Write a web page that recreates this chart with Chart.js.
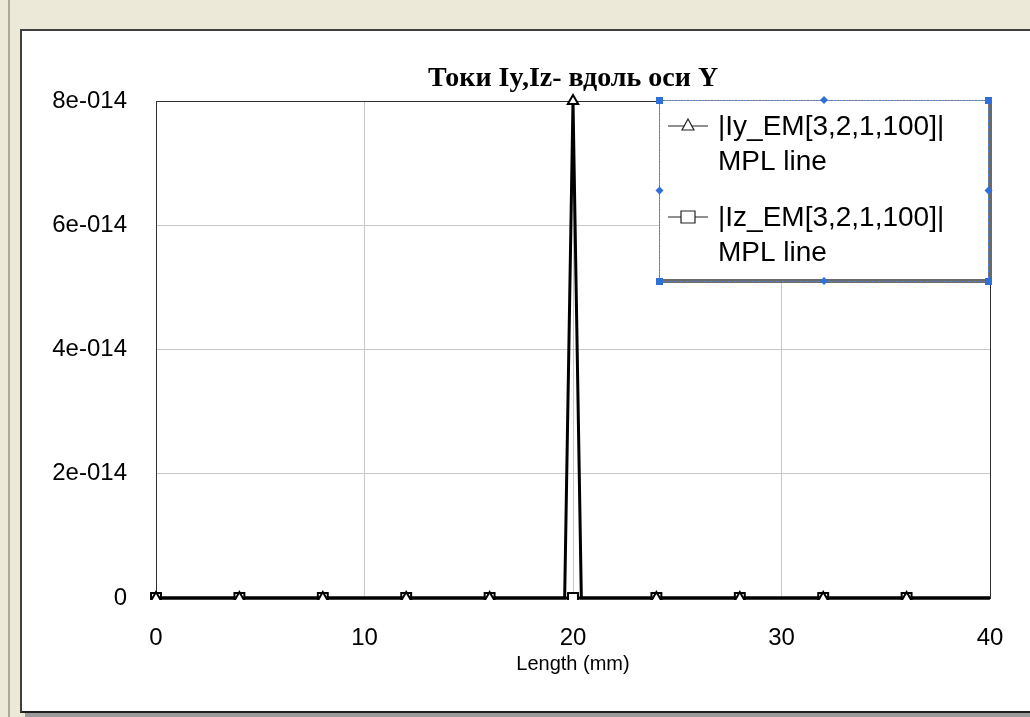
<!DOCTYPE html>
<html>
<head>
<meta charset="utf-8">
<script src="https://cdn.jsdelivr.net/npm/chart.js@4.4.0/dist/chart.umd.min.js"></script>
<style>
  body { margin: 0; background: #ece9d8; width: 1030px; height: 717px; overflow: hidden; position: relative; }
  .leftLine { position: absolute; left: 8px; top: 0; width: 2px; height: 717px; background: #aca899; }
  .panel { position: absolute; left: 20px; top: 29px; width: 1008px; height: 680px; background: #fff;
           border-left: 2px solid #404040; border-top: 2px solid #404040; border-bottom: 2px solid #202020; }
  .shadow { position: absolute; left: 25px; top: 713px; width: 1005px; height: 4px; background: #9a9a9a; }
  canvas { position: absolute; left: 0; top: 0; }
</style>
</head>
<body>
<div class="leftLine"></div>
<div class="panel"></div>
<div class="shadow"></div>
<canvas id="chart" width="1030" height="717"></canvas>
<script>
// values
const lengthMm = [0, 4, 8, 12, 16, 19.6, 20, 20.4, 24, 28, 32, 36, 40];
const iyAbs = [0, 0, 0, 0, 0, 0, 8e-14, 0, 0, 0, 0, 0, 0];
const izAbs = [0, 0, 0, 0, 0, 0, 0, 0, 0, 0, 0, 0, 0];
const seriesNames = ["|Iy_EM[3,2,1,100]|", "|Iz_EM[3,2,1,100]|"];
const seriesSub = "MPL line";
const chartTitle = "Токи Iy,Iz- вдоль оси Y";
const yTickLabels = ["0", "2e-014", "4e-014", "6e-014", "8e-014"];
const xTickLabels = ["0", "10", "20", "30", "40"];

const toPoints = (ys) => lengthMm.map((x, i) => ({ x: x, y: ys[i] }));
// markers only on every 4 mm, like the original plot
const markerRadius = (r) => lengthMm.map((x) => (x % 4 === 0 && x < 40 ? r : 0));

// title centred over the plot area (chart.js centres it over the whole canvas)
const plotTitle = {
  id: "plotTitle",
  afterDraw(chart) {
    const ctx = chart.ctx;
    const a = chart.chartArea;
    ctx.save();
    ctx.fillStyle = "#000";
    ctx.font = 'bold 28px "Liberation Serif", "Times New Roman", serif';
    ctx.textAlign = "center";
    ctx.textBaseline = "middle";
    ctx.fillText(chartTitle, (a.left + a.right) / 2, a.top - 22);
    ctx.restore();
  }
};

// legend drawn like the MWO one: two-line labels, selection frame
const legendBox = {
  id: "legendBox",
  afterDatasetsDraw(chart) {
    const ctx = chart.ctx;
    const a = chart.chartArea;
    const x = a.right - 331, y = a.top - 1, w = 329, h = 179;
    ctx.save();
    ctx.fillStyle = "#6a6a6a";
    ctx.fillRect(x + 4, y + 4, w, h);
    ctx.fillStyle = "#fff";
    ctx.fillRect(x, y, w, h);

    chart.data.datasets.forEach((ds, i) => {
      const cy = y + 26 + i * 91;
      ctx.strokeStyle = "#222";
      ctx.lineWidth = 1.2;
      ctx.beginPath();
      ctx.moveTo(x + 9, cy);
      ctx.lineTo(x + 49, cy);
      ctx.stroke();
      ctx.fillStyle = "#fff";
      ctx.beginPath();
      if (ds.pointStyle === "triangle") {
        ctx.moveTo(x + 29, cy - 7);
        ctx.lineTo(x + 35, cy + 4);
        ctx.lineTo(x + 23, cy + 4);
        ctx.closePath();
      } else {
        ctx.rect(x + 22, cy - 6, 14, 12);
      }
      ctx.fill();
      ctx.stroke();
      ctx.fillStyle = "#000";
      ctx.font = '28px "Liberation Sans", Arial';
      ctx.textBaseline = "middle";
      ctx.textAlign = "left";
      ctx.fillText(ds.label, x + 59, cy + 1);
      ctx.fillText(seriesSub, x + 59, cy + 36);
    });

    // dashed selection frame with handles
    ctx.lineWidth = 1;
    ctx.setLineDash([3, 3]);
    ctx.strokeStyle = "#4a86e0";
    ctx.strokeRect(x + 0.5, y + 0.5, w, h + 2);
    ctx.lineDashOffset = 3;
    ctx.strokeStyle = "#777";
    ctx.strokeRect(x + 0.5, y + 0.5, w, h + 2);
    ctx.setLineDash([]);
    ctx.fillStyle = "#2f6fd8";
    const xs = [x, x + w / 2, x + w], ys = [y, y + (h + 2) / 2, y + h + 2];
    xs.forEach((hx, ix) => ys.forEach((hy, iy) => {
      if (ix === 1 && iy === 1) return;
      if (ix !== 1 && iy !== 1) {
        ctx.fillRect(hx - 3, hy - 3, 7, 7);
      } else {
        ctx.beginPath();
        ctx.moveTo(hx + 0.5, hy - 4);
        ctx.lineTo(hx + 4.5, hy);
        ctx.lineTo(hx + 0.5, hy + 4);
        ctx.lineTo(hx - 3.5, hy);
        ctx.closePath();
        ctx.fill();
      }
    }));
    ctx.restore();
  }
};

// dark frame round the plot area
const plotFrame = {
  id: "plotFrame",
  beforeDatasetsDraw(chart) {
    const ctx = chart.ctx;
    const a = chart.chartArea;
    ctx.save();
    ctx.strokeStyle = "#303030";
    ctx.lineWidth = 1;
    ctx.strokeRect(Math.round(a.left) + 0.5, Math.round(a.top) + 0.5, a.right - a.left, a.bottom - a.top);
    ctx.restore();
  }
};

new Chart(document.getElementById("chart"), {
  type: "line",
  data: {
    datasets: [
      {
        label: seriesNames[0],
        data: toPoints(iyAbs),
        borderColor: "#000",
        borderWidth: 3,
        pointStyle: "triangle",
        pointRadius: markerRadius(6),
        pointBackgroundColor: "#fff",
        pointBorderColor: "#000",
        pointBorderWidth: 2,
        clip: { left: false, top: false, right: false, bottom: 2 },
      },
      {
        label: seriesNames[1],
        data: toPoints(izAbs),
        borderColor: "#000",
        borderWidth: 3,
        pointStyle: "rect",
        pointRadius: markerRadius(7),
        pointBackgroundColor: "#fff",
        pointBorderColor: "#000",
        pointBorderWidth: 2,
        clip: { left: false, top: false, right: false, bottom: 2 },
      },
    ],
  },
  options: {
    responsive: false,
    animation: false,
    layout: { padding: { top: 101, left: 0, right: 40, bottom: 0 } },
    plugins: {
      legend: { display: false },
      tooltip: { enabled: false },
      title: { display: false },
    },
    scales: {
      x: {
        type: "linear",
        min: 0,
        max: 40,
        ticks: {
          stepSize: 10,
          padding: 26,
          color: "#000",
          font: { family: '"Liberation Sans", Arial', size: 24 },
          callback: (v) => xTickLabels[Math.round(v / 10)],
        },
        grid: { color: "#c8c8c8", drawTicks: false },
        border: { display: false },
        title: {
          display: true,
          text: "Length (mm)",
          color: "#000",
          font: { family: '"Liberation Sans", Arial', size: 20 },
          padding: { top: 0, bottom: 41 },
        },
        afterFit: (s) => { s.height = 119; },
      },
      y: {
        min: 0,
        max: 8e-14,
        ticks: {
          stepSize: 2e-14,
          padding: 29,
          color: "#000",
          font: { family: '"Liberation Sans", Arial', size: 24 },
          callback: (v) => yTickLabels[Math.round(v / 2e-14)],
        },
        grid: { color: "#c8c8c8", drawTicks: false },
        border: { display: false },
        afterFit: (s) => { s.width = 156; },
      },
    },
  },
  plugins: [plotFrame, legendBox, plotTitle],
});
</script>
</body>
</html>
